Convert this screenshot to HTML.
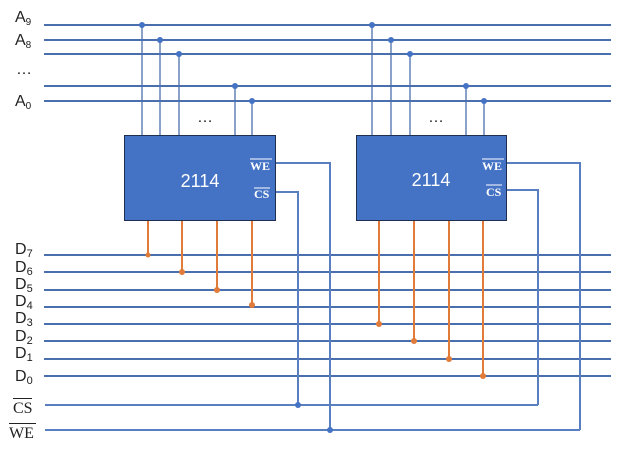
<!DOCTYPE html>
<html><head><style>body{margin:0;background:#fff}svg{display:block}</style></head><body>
<svg width="634" height="451" xmlns="http://www.w3.org/2000/svg" font-family="Liberation Sans, sans-serif">
<g stroke="#4a6fae" stroke-width="2">
<line x1="44" y1="25" x2="611" y2="25"/><line x1="44" y1="40" x2="611" y2="40"/><line x1="44" y1="54" x2="611" y2="54"/><line x1="44" y1="86" x2="611" y2="86"/><line x1="44" y1="101" x2="611" y2="101"/>
<line x1="44" y1="255" x2="611" y2="255"/><line x1="44" y1="272" x2="611" y2="272"/><line x1="44" y1="290" x2="611" y2="290"/><line x1="44" y1="307" x2="611" y2="307"/><line x1="44" y1="324" x2="611" y2="324"/><line x1="44" y1="341" x2="611" y2="341"/><line x1="44" y1="359" x2="611" y2="359"/><line x1="44" y1="376" x2="611" y2="376"/>
</g>
<g stroke="#4a6fae" stroke-width="1.3" fill="none">
<line x1="142" y1="25" x2="142" y2="136"/><line x1="160" y1="40" x2="160" y2="136"/><line x1="179" y1="54" x2="179" y2="136"/><line x1="235" y1="86" x2="235" y2="136"/><line x1="252" y1="101" x2="252" y2="136"/>
<line x1="372" y1="25" x2="372" y2="136"/><line x1="391" y1="40" x2="391" y2="136"/><line x1="410" y1="54" x2="410" y2="136"/><line x1="466" y1="86" x2="466" y2="136"/><line x1="484" y1="101" x2="484" y2="136"/>
</g>
<g stroke="#5a7fc0" stroke-width="2" fill="none">
<line x1="45" y1="405" x2="538" y2="405"/><line x1="45" y1="430" x2="580" y2="430"/>
<polyline points="276,163 330,163 330,430"/><polyline points="276,192 298,192 298,405"/>
<polyline points="506,163 580,163 580,430"/><polyline points="506,190 538,190 538,405"/>
</g>
<g fill="#4472c4">
<circle cx="142" cy="25" r="3"/><circle cx="160" cy="40" r="3"/><circle cx="179" cy="54" r="3"/><circle cx="235" cy="86" r="3"/><circle cx="252" cy="101" r="3"/>
<circle cx="372" cy="25" r="3"/><circle cx="391" cy="40" r="3"/><circle cx="410" cy="54" r="3"/><circle cx="466" cy="86" r="3"/><circle cx="484" cy="101" r="3"/>
<circle cx="298" cy="405" r="3"/><circle cx="330" cy="430" r="3"/>
</g>
<g stroke="#e07b39" stroke-width="2">
<line x1="148" y1="220" x2="148" y2="255"/><line x1="182" y1="220" x2="182" y2="272"/><line x1="217" y1="220" x2="217" y2="290"/><line x1="252" y1="220" x2="252" y2="305"/>
<line x1="379" y1="220" x2="379" y2="324"/><line x1="414" y1="220" x2="414" y2="341"/><line x1="449" y1="220" x2="449" y2="359"/><line x1="483" y1="220" x2="483" y2="376"/>
</g>
<g fill="#e07b39">
<circle cx="148" cy="255" r="2.5"/><circle cx="182" cy="272" r="3"/><circle cx="217" cy="290" r="3"/><circle cx="252" cy="305" r="3"/>
<circle cx="379" cy="324" r="3"/><circle cx="414" cy="341" r="3"/><circle cx="449" cy="359" r="3"/><circle cx="483" cy="376" r="3"/>
</g>
<rect x="124.5" y="135.5" width="151" height="85" fill="#4472c4" stroke="#1f2f4f"/>
<rect x="356.5" y="135.5" width="150" height="85" fill="#4472c4" stroke="#1f2f4f"/>
<g fill="#fff">
<text x="200" y="187" font-size="18" text-anchor="middle">2114</text>
<text x="431" y="186" font-size="18" text-anchor="middle">2114</text>
<g font-family="Liberation Serif, serif" font-size="12" font-weight="bold">
<text x="250" y="170">WE</text><line x1="250" y1="159" x2="272" y2="159" stroke="#fff"/>
<text x="254" y="198">CS</text><line x1="254" y1="188" x2="270" y2="188" stroke="#fff"/>
<text x="482" y="170">WE</text><line x1="482" y1="159" x2="504" y2="159" stroke="#fff"/>
<text x="486" y="196">CS</text><line x1="486" y1="185" x2="502" y2="185" stroke="#fff"/>
</g></g>
<g fill="#222" font-size="16">
<text x="15" y="22">A<tspan font-size="10" dy="3">9</tspan></text>
<text x="15" y="45">A<tspan font-size="10" dy="3">8</tspan></text>
<text x="16" y="74">…</text>
<text x="15" y="106">A<tspan font-size="10" dy="3">0</tspan></text>
<text x="197" y="122">…</text><text x="428" y="122">…</text>
<text x="15" y="254">D<tspan font-size="11" dy="3">7</tspan></text>
<text x="15" y="272">D<tspan font-size="11" dy="3">6</tspan></text>
<text x="15" y="289">D<tspan font-size="11" dy="3">5</tspan></text>
<text x="15" y="306">D<tspan font-size="11" dy="3">4</tspan></text>
<text x="15" y="323">D<tspan font-size="11" dy="3">3</tspan></text>
<text x="15" y="341">D<tspan font-size="11" dy="3">2</tspan></text>
<text x="15" y="358">D<tspan font-size="11" dy="3">1</tspan></text>
<text x="15" y="381">D<tspan font-size="11" dy="3">0</tspan></text>
<g font-family="Liberation Serif, serif" font-size="16">
<text x="13" y="413">CS</text><line x1="13" y1="398.5" x2="32" y2="398.5" stroke="#222"/>
<text x="9" y="438">WE</text><line x1="9" y1="423.5" x2="36" y2="423.5" stroke="#222"/>
</g></g>
</svg>
</body></html>
